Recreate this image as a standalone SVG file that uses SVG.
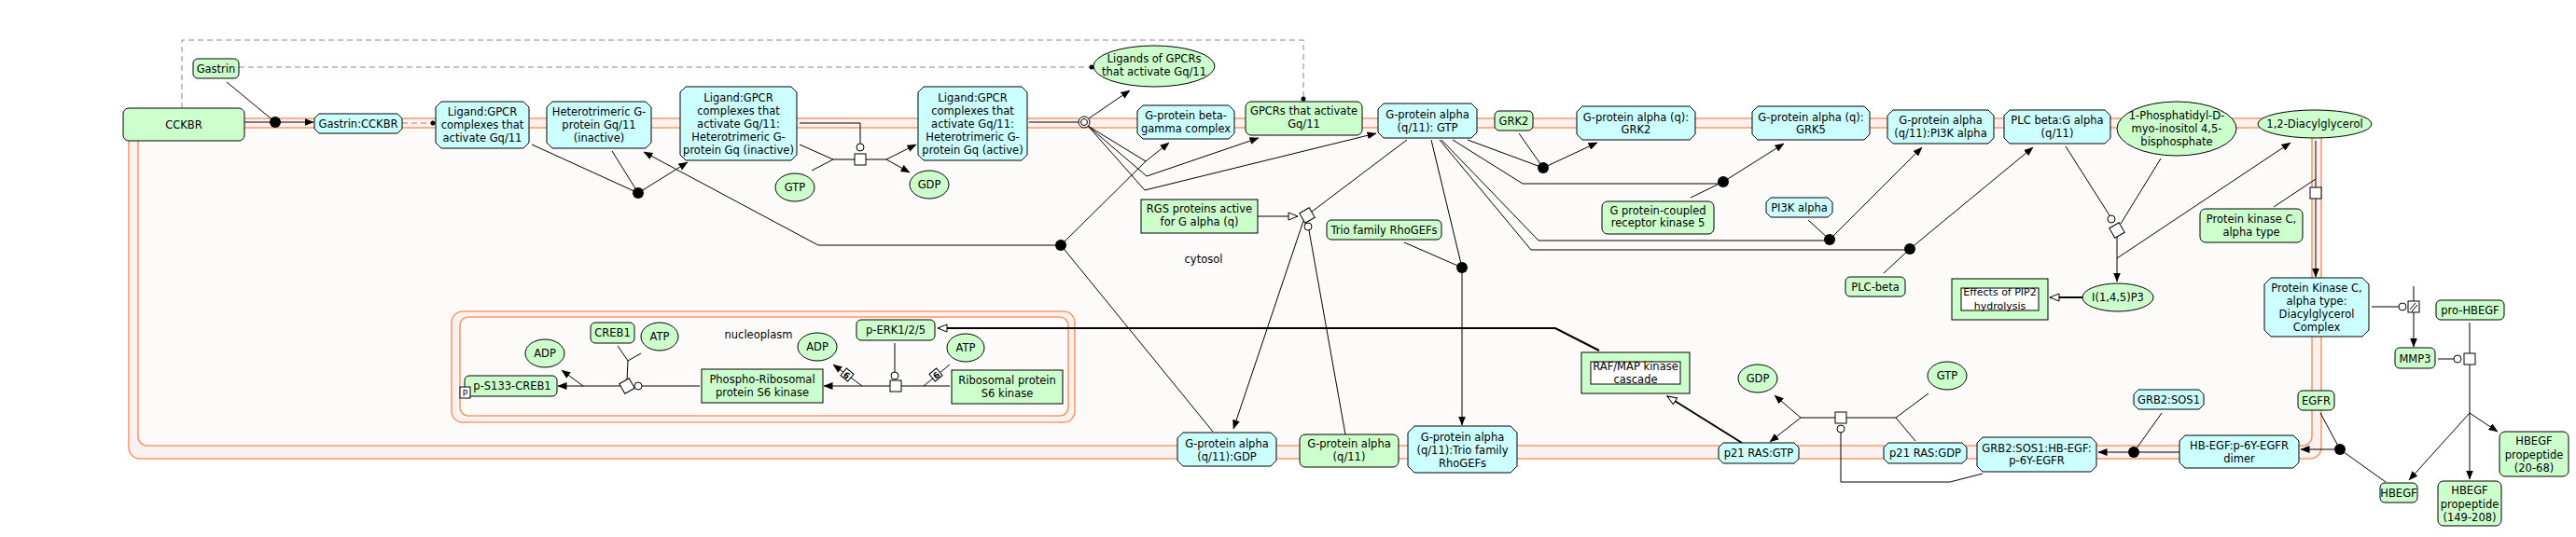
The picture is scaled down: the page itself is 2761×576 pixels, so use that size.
<svg xmlns="http://www.w3.org/2000/svg" width="2761" height="576" viewBox="0 0 2761 576">
<style>
text{font-family:"DejaVu Sans",sans-serif;font-size:11.5px;fill:#000;text-anchor:middle}
.g{fill:#ccffcc;stroke:#000;stroke-width:1}
.c{fill:#ccffff;stroke:#000;stroke-width:1}
.w{fill:#fff;stroke:#000;stroke-width:1}
.e{fill:none;stroke:#000;stroke-width:1}
.t{fill:none;stroke:#000;stroke-width:2}
.d{fill:none;stroke:#888;stroke-width:1;stroke-dasharray:6,4}
.m{stroke:#fa9a6a;stroke-width:1.6}
.dot{fill:#000}
.lab{font-size:11.5px}
</style>
<defs>
<marker id="a" markerWidth="10" markerHeight="8" refX="9.5" refY="4" orient="auto" markerUnits="userSpaceOnUse"><path d="M0,0 L10,4 L0,8 z" fill="#000"/></marker>
<marker id="o" markerWidth="12" markerHeight="10" refX="11" refY="5" orient="auto" markerUnits="userSpaceOnUse"><path d="M1,1 L11,5 L1,9 z" fill="#fff" stroke="#000" stroke-width="1"/></marker>
</defs>
<rect width="2761" height="576" fill="#fff"/>
<g id="compartments">
<rect class="m" x="138" y="127" width="2350" height="365" rx="12" fill="#fbf1f0"/>
<rect class="m" x="148" y="137" width="2330" height="341" rx="10" fill="#fdfbfa"/>
<rect class="m" x="484" y="334" width="668" height="119" rx="12" fill="#fbf1f0"/>
<rect class="m" x="493" y="340" width="652" height="106" rx="9" fill="#fdfbfa"/>
<text x="1290" y="282">cytosol</text>
<text x="813" y="363">nucleoplasm</text>
</g>
<g id="connectors">
<polyline class="d" points="195,116 195,43 1397,43 1397,106"/>
<circle cx="1397" cy="106" r="2.5" fill="#000"/>
<line class="d" x1="256" y1="72" x2="1170" y2="72"/>
<circle cx="1170" cy="72" r="2.5" fill="#000"/>
<line class="d" x1="431" y1="132" x2="465" y2="132"/>
<circle cx="464" cy="132" r="2.5" fill="#000"/>
<!-- R1 -->
<line class="e" x1="262" y1="131" x2="295" y2="131"/>
<line class="e" x1="243" y1="88" x2="295" y2="131"/>
<line class="e" x1="295" y1="131" x2="336" y2="131" marker-end="url(#a)"/>
<circle class="dot" cx="295" cy="131" r="6"/>
<!-- R2 -->
<line class="e" x1="570" y1="155" x2="684" y2="207"/>
<line class="e" x1="656" y1="162" x2="684" y2="207"/>
<line class="e" x1="684" y1="207" x2="737" y2="174" marker-end="url(#a)"/>
<circle class="dot" cx="684" cy="207" r="6"/>
<!-- R3 -->
<polyline class="e" points="857,155 893,171 916,171"/>
<line class="e" x1="870" y1="183" x2="893" y2="171"/>
<line class="e" x1="928" y1="171" x2="950" y2="171"/>
<line class="e" x1="950" y1="171" x2="982" y2="155" marker-end="url(#a)"/>
<line class="e" x1="950" y1="171" x2="975" y2="185" marker-end="url(#a)"/>
<polyline class="e" points="857,132 922,132 922,154"/>
<rect class="w" x="916" y="165" width="12" height="12"/>
<circle class="w" cx="922" cy="158" r="4"/>
<!-- R4 -->
<line class="e" x1="1103" y1="131" x2="1156" y2="131"/>
<line class="e" x1="1167" y1="127" x2="1211" y2="97" marker-end="url(#a)"/>
<polyline class="e" points="1166,135 1228,173 1253,153" marker-end="url(#a)"/>
<polyline class="e" points="1166,135 1229,189 1349,148" marker-end="url(#a)"/>
<polyline class="e" points="1166,135 1227,204 1475,143" marker-end="url(#a)"/>
<circle class="w" cx="1162" cy="131" r="6"/>
<circle class="w" cx="1162" cy="131" r="3.5"/>
<!-- reassociation -->
<polyline class="e" points="1137,263 877,263 690,163" marker-end="url(#a)"/>
<line class="e" x1="1137" y1="263" x2="1228" y2="173"/>
<line class="e" x1="1137" y1="263" x2="1300" y2="463"/>
<circle class="dot" cx="1137" cy="263" r="6"/>
<!-- R5 -->
<line class="e" x1="1348" y1="232" x2="1391" y2="232" marker-end="url(#o)"/>
<line class="e" x1="1508" y1="150" x2="1406" y2="227"/>
<line class="e" x1="1397" y1="237" x2="1322" y2="460" marker-end="url(#a)"/>
<line class="e" x1="1442" y1="466" x2="1403" y2="247"/>
<rect class="w" x="1395" y="225" width="12" height="12" transform="rotate(-30 1401 231)"/>
<circle class="w" cx="1402" cy="243" r="4"/>
<!-- R6 -->
<line class="e" x1="1505" y1="260" x2="1567" y2="287"/>
<line class="e" x1="1534" y1="150" x2="1567" y2="287"/>
<line class="e" x1="1567" y1="287" x2="1567" y2="456" marker-end="url(#a)"/>
<circle class="dot" cx="1567" cy="287" r="6"/>
<!-- R7 -->
<line class="e" x1="1573" y1="150" x2="1654" y2="180"/>
<line class="e" x1="1628" y1="143" x2="1654" y2="180"/>
<line class="e" x1="1654" y1="180" x2="1712" y2="153" marker-end="url(#a)"/>
<circle class="dot" cx="1654" cy="180" r="6"/>
<!-- R8 -->
<polyline class="e" points="1557,150 1632,197 1847,197"/>
<line class="e" x1="1812" y1="212" x2="1847" y2="195"/>
<line class="e" x1="1847" y1="195" x2="1912" y2="154" marker-end="url(#a)"/>
<circle class="dot" cx="1847" cy="195" r="6"/>
<!-- R9 -->
<polyline class="e" points="1545,150 1649,258 1961,258"/>
<line class="e" x1="1938" y1="236" x2="1961" y2="257"/>
<line class="e" x1="1961" y1="257" x2="2060" y2="158" marker-end="url(#a)"/>
<circle class="dot" cx="1961" cy="257" r="6"/>
<!-- R10 -->
<polyline class="e" points="1543,150 1641,268 2047,268"/>
<line class="e" x1="2019" y1="293" x2="2047" y2="267"/>
<line class="e" x1="2047" y1="267" x2="2179" y2="158" marker-end="url(#a)"/>
<circle class="dot" cx="2047" cy="267" r="6"/>
<!-- R11 -->
<line class="e" x1="2214" y1="157" x2="2261" y2="231"/>
<line class="e" x1="2316" y1="170" x2="2273" y2="240"/>
<line class="e" x1="2269" y1="253" x2="2269" y2="302" marker-end="url(#a)"/>
<line class="e" x1="2269" y1="277" x2="2455" y2="153" marker-end="url(#a)"/>
<rect class="w" x="2263" y="241" width="12" height="12" transform="rotate(-30 2269 247)"/>
<circle class="w" cx="2263" cy="235" r="4"/>
<!-- R12 -->
<line class="t" x1="2233" y1="319" x2="2197" y2="319" marker-end="url(#o)"/>
<!-- R13 -->
<line class="e" x1="2482" y1="151" x2="2482" y2="201"/>
<line class="e" x1="2482" y1="213" x2="2482" y2="297" marker-end="url(#a)"/>
<line class="e" x1="2437" y1="222" x2="2482" y2="192"/>
<rect class="w" x="2476" y="201" width="12" height="12"/>
<!-- R14 -->
<line class="e" x1="2542" y1="329" x2="2571" y2="329"/>
<line class="e" x1="2587" y1="307" x2="2587" y2="323"/>
<line class="e" x1="2587" y1="335" x2="2587" y2="372" marker-end="url(#a)"/>
<circle class="w" cx="2575" cy="329" r="4"/>
<rect class="w" x="2581" y="323" width="12" height="12"/>
<path class="e" d="M2583,332 L2589,325 M2585,334 L2591,327"/>
<!-- R15 -->
<line class="e" x1="2613" y1="385" x2="2630" y2="385"/>
<line class="e" x1="2647" y1="346" x2="2647" y2="379"/>
<line class="e" x1="2647" y1="391" x2="2647" y2="443"/>
<line class="e" x1="2647" y1="443" x2="2677" y2="463" marker-end="url(#a)"/>
<line class="e" x1="2647" y1="443" x2="2582" y2="515" marker-end="url(#a)"/>
<line class="e" x1="2647" y1="443" x2="2647" y2="514" marker-end="url(#a)"/>
<circle class="w" cx="2634" cy="385" r="4"/>
<rect class="w" x="2641" y="379" width="12" height="12"/>
<!-- R16 -->
<line class="e" x1="2487" y1="443" x2="2508" y2="482"/>
<line class="e" x1="2557" y1="517" x2="2508" y2="482"/>
<line class="e" x1="2508" y1="482" x2="2466" y2="482" marker-end="url(#a)"/>
<circle class="dot" cx="2508" cy="482" r="6"/>
<!-- R17 -->
<line class="e" x1="2336" y1="485" x2="2287" y2="485"/>
<line class="e" x1="2317" y1="443" x2="2287" y2="485"/>
<line class="e" x1="2287" y1="485" x2="2249" y2="485" marker-end="url(#a)"/>
<circle class="dot" cx="2287" cy="485" r="6"/>
<!-- R18 -->
<polyline class="e" points="2125,508 2090,517 1973,517 1973,464"/>
<polyline class="e" points="2053,473 2032,448 1979,448"/>
<line class="e" x1="2067" y1="422" x2="2032" y2="448"/>
<line class="e" x1="1967" y1="448" x2="1930" y2="448"/>
<line class="e" x1="1930" y1="448" x2="1902" y2="424" marker-end="url(#a)"/>
<line class="e" x1="1930" y1="448" x2="1897" y2="474" marker-end="url(#a)"/>
<rect class="w" x="1967" y="442" width="12" height="12"/>
<circle class="w" cx="1973" cy="460" r="4"/>
<!-- R19 -->
<line class="t" x1="1867" y1="475" x2="1787" y2="425" marker-end="url(#o)"/>
<!-- R20 -->
<polyline class="t" points="1714,376 1667,352 1005,352" marker-end="url(#o)"/>
<!-- R21 -->
<line class="e" x1="959" y1="368" x2="959" y2="399"/>
<line class="e" x1="1018" y1="414" x2="966" y2="414"/>
<line class="e" x1="1018" y1="391" x2="990" y2="414"/>
<line class="e" x1="954" y1="414" x2="924" y2="414"/>
<line class="e" x1="924" y1="414" x2="883" y2="414" marker-end="url(#a)"/>
<line class="e" x1="924" y1="414" x2="893" y2="391" marker-end="url(#a)"/>
<rect class="w" x="954" y="408" width="12" height="12"/>
<circle class="w" cx="959" cy="403" r="4"/>
<g transform="rotate(-40 1003 402)"><rect class="w" x="998" y="397" width="10" height="10"/><text x="1003" y="406" style="font-size:9px;font-weight:bold">6</text></g>
<g transform="rotate(40 908 402)"><rect class="w" x="903" y="397" width="10" height="10"/><text x="908" y="406" style="font-size:9px;font-weight:bold">6</text></g>
<!-- R22 -->
<line class="e" x1="750" y1="414" x2="688" y2="414"/>
<line class="e" x1="673" y1="387" x2="672" y2="408"/>
<line class="e" x1="662" y1="371" x2="673" y2="387"/>
<line class="e" x1="687" y1="379" x2="673" y2="387"/>
<line class="e" x1="666" y1="414" x2="625" y2="414"/>
<line class="e" x1="625" y1="414" x2="598" y2="414" marker-end="url(#a)"/>
<line class="e" x1="625" y1="414" x2="602" y2="397" marker-end="url(#a)"/>
<rect class="w" x="666" y="408" width="12" height="12" transform="rotate(-30 672 414)"/>
<circle class="w" cx="684" cy="414" r="4"/>
</g>
<g id="n_cckbr"><rect class="g" x="132" y="116" width="130" height="35" rx="6"/><text x="197" y="137.5">CCKBR</text></g>
<g id="n_gastrin"><rect class="g" x="207" y="63" width="49" height="21" rx="5"/><text x="231.5" y="77.5">Gastrin</text></g>
<g id="n_gastrin_cckbr"><polygon class="c" points="342,122 426,122 431,127 431,138 426,143 342,143 337,138 337,127"/><text x="384" y="136.5">Gastrin:CCKBR</text></g>
<g id="n_lig_gpcr"><polygon class="c" points="473,109 561,109 567,115 567,153 561,159 473,159 467,153 467,115"/><text x="517" y="124">Ligand:GPCR</text><text x="517" y="138">complexes that</text><text x="517" y="152">activate Gq/11</text></g>
<g id="n_hetero"><polygon class="c" points="592,109 692,109 698,115 698,153 692,159 592,159 586,153 586,115"/><text x="642" y="124">Heterotrimeric G-</text><text x="642" y="138">protein Gq/11</text><text x="642" y="152">(inactive)</text></g>
<g id="n_lig_gpcr_gq_inactive"><polygon class="c" points="735,93 848,93 854,99 854,166 848,172 735,172 729,166 729,99"/><text x="791.5" y="108.5">Ligand:GPCR</text><text x="791.5" y="122.5">complexes that</text><text x="791.5" y="136.5">activate Gq/11:</text><text x="791.5" y="150.5">Heterotrimeric G-</text><text x="791.5" y="164.5">protein Gq (inactive)</text></g>
<g id="n_gtp1"><ellipse class="g" cx="852" cy="201" rx="21" ry="15"/><text x="852" y="205">GTP</text></g>
<g id="n_gdp1"><ellipse class="g" cx="996" cy="198" rx="21" ry="15"/><text x="996" y="202">GDP</text></g>
<g id="n_lig_gpcr_gq_active"><polygon class="c" points="990,93 1095,93 1101,99 1101,166 1095,172 990,172 984,166 984,99"/><text x="1042.5" y="108.5">Ligand:GPCR</text><text x="1042.5" y="122.5">complexes that</text><text x="1042.5" y="136.5">activate Gq/11:</text><text x="1042.5" y="150.5">Heterotrimeric G-</text><text x="1042.5" y="164.5">protein Gq (active)</text></g>
<g id="n_ligands"><ellipse class="g" cx="1237" cy="71" rx="65" ry="22"/><text x="1237" y="67">Ligands of GPCRs</text><text x="1237" y="81">that activate Gq/11</text></g>
<g id="n_betagamma"><polygon class="c" points="1225,113 1317,113 1323,119 1323,143 1317,149 1225,149 1219,143 1219,119"/><text x="1271" y="128">G-protein beta-</text><text x="1271" y="142">gamma complex</text></g>
<g id="n_gpcrs"><rect class="g" x="1335" y="109" width="125" height="36" rx="6"/><text x="1397.5" y="123">GPCRs that activate</text><text x="1397.5" y="137">Gq/11</text></g>
<g id="n_alpha_gtp"><polygon class="c" points="1483,111 1577,111 1583,117 1583,142 1577,148 1483,148 1477,142 1477,117"/><text x="1530" y="127">G-protein alpha</text><text x="1530" y="141">(q/11): GTP</text></g>
<g id="n_grk2"><rect class="g" x="1602" y="119" width="41" height="21" rx="5"/><text x="1622.5" y="134">GRK2</text></g>
<g id="n_alpha_grk2"><polygon class="c" points="1696,114 1811,114 1817,120 1817,144 1811,150 1696,150 1690,144 1690,120"/><text x="1753.5" y="130">G-protein alpha (q):</text><text x="1753.5" y="143">GRK2</text></g>
<g id="n_grk5"><rect class="g" x="1717" y="216" width="120" height="35" rx="6"/><text x="1777" y="230">G protein-coupled</text><text x="1777" y="243">receptor kinase 5</text></g>
<g id="n_alpha_grk5"><polygon class="c" points="1884,114 1998,114 2004,120 2004,144 1998,150 1884,150 1878,144 1878,120"/><text x="1941" y="130">G-protein alpha (q):</text><text x="1941" y="143">GRK5</text></g>
<g id="n_alpha_pi3k"><polygon class="c" points="2029,118 2131,118 2137,124 2137,148 2131,154 2029,154 2023,148 2023,124"/><text x="2080" y="133">G-protein alpha</text><text x="2080" y="147">(q/11):PI3K alpha</text></g>
<g id="n_plcb_galpha"><polygon class="c" points="2154,118 2256,118 2262,124 2262,148 2256,154 2154,154 2148,148 2148,124"/><text x="2205" y="133">PLC beta:G alpha</text><text x="2205" y="147">(q/11)</text></g>
<g id="n_pip2"><ellipse class="g" cx="2333" cy="138" rx="64" ry="29"/><text x="2333" y="128">1-Phosphatidyl-D-</text><text x="2333" y="142">myo-inositol 4,5-</text><text x="2333" y="156">bisphosphate</text></g>
<g id="n_dag"><ellipse class="g" cx="2481" cy="133" rx="61" ry="15"/><text x="2481" y="137">1,2-Diacylglycerol</text></g>
<g id="n_pi3k"><polygon class="c" points="1898,212 1959,212 1964,217 1964,228 1959,233 1898,233 1893,228 1893,217"/><text x="1928.5" y="226.5">PI3K alpha</text></g>
<g id="n_trio"><rect class="g" x="1422" y="236" width="123" height="21" rx="5"/><text x="1483.5" y="250.5">Trio family RhoGEFs</text></g>
<g id="n_rgs"><rect class="g" x="1223" y="214" width="125" height="36"/><text x="1285.5" y="228">RGS proteins active</text><text x="1285.5" y="242">for G alpha (q)</text></g>
<g id="n_pkca"><rect class="g" x="2358" y="224" width="110" height="36" rx="6"/><text x="2413" y="239">Protein kinase C,</text><text x="2413" y="253">alpha type</text></g>
<g id="n_plcbeta"><rect class="g" x="1978" y="297" width="64" height="21" rx="5"/><text x="2010" y="311.5">PLC-beta</text></g>
<g id="n_effects"><rect class="g" x="2092" y="299" width="103" height="44"/><rect class="w" x="2102" y="309" width="83" height="24"/><text x="2143.5" y="317" style="font-size:11px">Effects of PIP2</text><text x="2143.5" y="332" style="font-size:11px">hydrolysis</text></g>
<g id="n_ip3"><ellipse class="g" cx="2270" cy="319" rx="38" ry="15"/><text x="2270" y="323">I(1,4,5)P3</text></g>
<g id="n_pkc_dag"><polygon class="c" points="2434,298 2532,298 2539,305 2539,354 2532,361 2434,361 2427,354 2427,305"/><text x="2483" y="313">Protein Kinase C,</text><text x="2483" y="327">alpha type:</text><text x="2483" y="341">Diacylglycerol</text><text x="2483" y="355">Complex</text></g>
<g id="n_mmp3"><rect class="g" x="2567" y="373" width="43" height="22" rx="5"/><text x="2588.5" y="388.5">MMP3</text></g>
<g id="n_prohbegf"><rect class="g" x="2611" y="322" width="73" height="21" rx="5"/><text x="2647.5" y="337">pro-HBEGF</text></g>
<g id="n_egfr"><rect class="g" x="2463" y="419" width="39" height="21" rx="5"/><text x="2482.5" y="434">EGFR</text></g>
<g id="n_dimer"><polygon class="c" points="2342,467 2458,467 2464,473 2464,496 2458,502 2342,502 2336,496 2336,473"/><text x="2400" y="482">HB-EGF:p-6Y-EGFR</text><text x="2400" y="496">dimer</text></g>
<g id="n_prop2068"><rect class="g" x="2679" y="463" width="74" height="48" rx="6"/><text x="2716" y="477">HBEGF</text><text x="2716" y="492">propeptide</text><text x="2716" y="506">(20-68)</text></g>
<g id="n_hbegf"><rect class="g" x="2551" y="518" width="40" height="21" rx="5"/><text x="2571" y="532.5">HBEGF</text></g>
<g id="n_prop149"><rect class="g" x="2613" y="516" width="68" height="48" rx="6"/><text x="2647" y="530">HBEGF</text><text x="2647" y="545">propeptide</text><text x="2647" y="559">(149-208)</text></g>
<g id="n_grb2sos1"><polygon class="c" points="2292,418 2357,418 2362,423 2362,434 2357,439 2292,439 2287,434 2287,423"/><text x="2324.5" y="433">GRB2:SOS1</text></g>
<g id="n_grb2cx"><polygon class="c" points="2125,469 2241,469 2247,475 2247,500 2241,506 2125,506 2119,500 2119,475"/><text x="2183" y="485">GRB2:SOS1:HB-EGF:</text><text x="2183" y="498">p-6Y-EGFR</text></g>
<g id="n_rasgdp"><polygon class="c" points="2024,475 2103,475 2108,480 2108,492 2103,497 2024,497 2019,492 2019,480"/><text x="2063.5" y="490">p21 RAS:GDP</text></g>
<g id="n_rasgtp"><polygon class="c" points="1847,475 1923,475 1928,480 1928,492 1923,497 1847,497 1842,492 1842,480"/><text x="1885" y="490">p21 RAS:GTP</text></g>
<g id="n_gdp2"><ellipse class="g" cx="1884" cy="406" rx="21" ry="15"/><text x="1884" y="410">GDP</text></g>
<g id="n_gtp2"><ellipse class="g" cx="2087" cy="403" rx="21" ry="15"/><text x="2087" y="407">GTP</text></g>
<g id="n_raf"><rect class="g" x="1695" y="378" width="116" height="44"/><rect class="w" x="1705" y="388" width="96" height="24"/><text x="1753" y="397">RAF/MAP kinase</text><text x="1753" y="411">cascade</text></g>
<g id="n_alpha_trio"><polygon class="c" points="1516,457 1619,457 1626,464 1626,500 1619,507 1516,507 1509,500 1509,464"/><text x="1567.5" y="473">G-protein alpha</text><text x="1567.5" y="487">(q/11):Trio family</text><text x="1567.5" y="501">RhoGEFs</text></g>
<g id="n_galpha"><rect class="g" x="1393" y="466" width="106" height="35" rx="6"/><text x="1446" y="480">G-protein alpha</text><text x="1446" y="494">(q/11)</text></g>
<g id="n_alpha_gdp"><polygon class="c" points="1268,464 1362,464 1368,470 1368,494 1362,500 1268,500 1262,494 1262,470"/><text x="1315" y="480">G-protein alpha</text><text x="1315" y="494">(q/11):GDP</text></g>
<g id="n_perk"><rect class="g" x="918" y="343" width="84" height="22" rx="5"/><text x="960" y="358">p-ERK1/2/5</text></g>
<g id="n_atp3"><ellipse class="g" cx="1035" cy="373" rx="20" ry="15"/><text x="1035" y="377">ATP</text></g>
<g id="n_rps6k"><rect class="g" x="1020" y="397" width="119" height="36"/><text x="1079.5" y="412">Ribosomal protein</text><text x="1079.5" y="426">S6 kinase</text></g>
<g id="n_adp3"><ellipse class="g" cx="876" cy="372" rx="21" ry="15"/><text x="876" y="376">ADP</text></g>
<g id="n_prps6k"><rect class="g" x="752" y="396" width="130" height="36"/><text x="817" y="411">Phospho-Ribosomal</text><text x="817" y="425">protein S6 kinase</text></g>
<g id="n_creb1"><rect class="g" x="633" y="346" width="47" height="22" rx="5"/><text x="656.5" y="361">CREB1</text></g>
<g id="n_atp4"><ellipse class="g" cx="707" cy="361" rx="20" ry="15"/><text x="707" y="365">ATP</text></g>
<g id="n_adp4"><ellipse class="g" cx="584" cy="379" rx="21" ry="15"/><text x="584" y="383">ADP</text></g>
<g id="n_pcreb1"><rect class="g" x="498" y="403" width="99" height="22" rx="5"/><text x="549" y="418">p-S133-CREB1</text><rect class="w" x="493" y="415" width="11" height="12"/><text x="498.5" y="425" style="font-size:9px">P</text></g>
</svg>
